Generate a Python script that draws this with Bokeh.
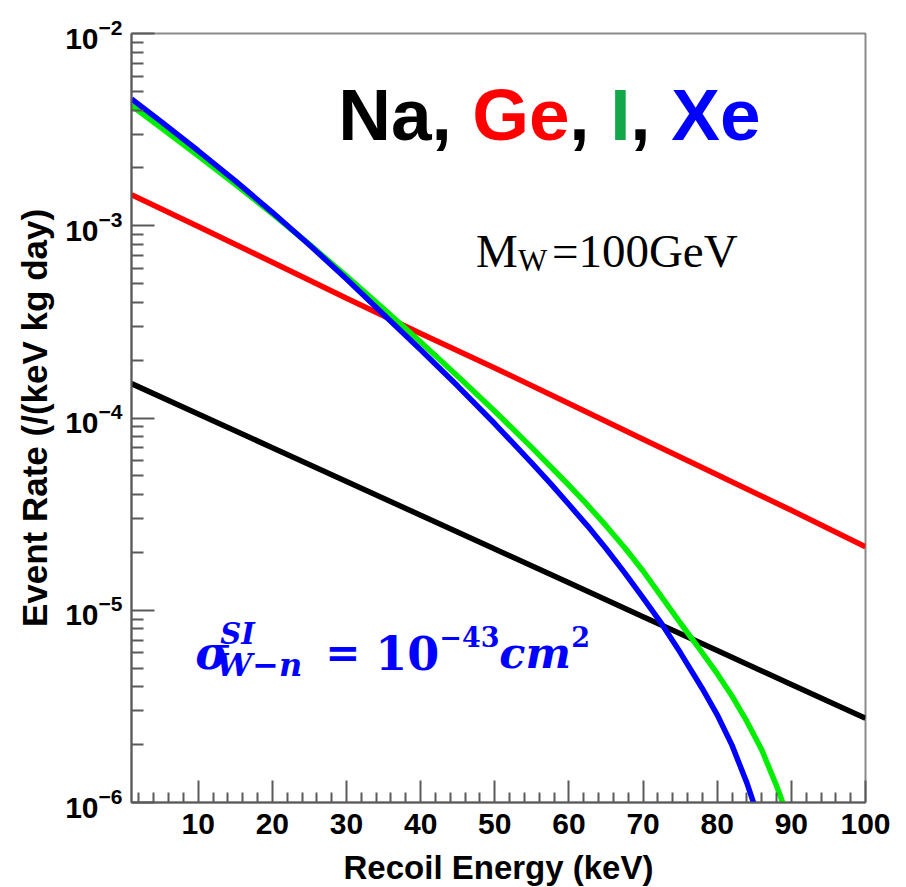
from bokeh.plotting import figure
from bokeh.models import Range1d, FixedTicker, Label, LogTickFormatter
from bokeh.embed import file_html
from bokeh.resources import INLINE

# Recoil energy (keV) and differential event rate (/(keV kg day)) per target
na_energy = [1, 10, 20, 30, 40, 50, 60, 70, 80, 90, 100]
na_rate = [1.51e-4, 1.05e-4, 7.0e-5, 4.68e-5, 3.12e-5, 2.08e-5, 1.39e-5,
           9.25e-6, 6.17e-6, 4.11e-6, 2.74e-6]

ge_energy = [1, 10, 20, 30, 40, 50, 60, 70, 80, 90, 100]
ge_rate = [1.45e-3, 9.9e-4, 6.46e-4, 4.2e-4, 2.75e-4, 1.82e-4, 1.19e-4,
           7.76e-5, 5.07e-5, 3.31e-5, 2.14e-5]

i_energy = [1, 5, 10, 15, 20, 25, 30, 35, 40, 45, 50, 55, 60, 62.5, 65,
            67.5, 70, 72.5, 75, 77.5, 80, 82, 84, 86, 88, 89]
i_rate = [4.217e-3, 3.236e-3, 2.312e-3, 1.641e-3, 1.153e-3, 7.998e-4,
          5.470e-4, 3.698e-4, 2.483e-4, 1.648e-4, 1.084e-4, 7.015e-5,
          4.467e-5, 3.528e-5, 2.754e-5, 2.120e-5, 1.600e-5, 1.175e-5,
          8.610e-6, 6.380e-6, 4.680e-6, 3.580e-6, 2.640e-6, 1.880e-6,
          1.222e-6, 9.594e-7]

xe_energy = [1, 5, 10, 15, 20, 25, 30, 35, 40, 45, 50, 55, 57.5, 60, 62.5,
             65, 67.5, 70, 72.5, 75, 78, 80, 82, 84, 85]
xe_rate = [4.571e-3, 3.483e-3, 2.455e-3, 1.710e-3, 1.175e-3, 7.943e-4,
           5.284e-4, 3.459e-4, 2.265e-4, 1.466e-4, 9.333e-5, 5.821e-5,
           4.571e-5, 3.548e-5, 2.748e-5, 2.094e-5, 1.570e-5, 1.159e-5,
           8.511e-6, 6.039e-6, 3.908e-6, 2.858e-6, 1.982e-6, 1.265e-6,
           9.705e-7]

x_ticks = [10, 20, 30, 40, 50, 60, 70, 80, 90, 100]
x_minor = [v for v in range(2, 100, 2) if v % 10 != 0]
y_exponents = [-6, -5, -4, -3, -2]
y_ticks = [10.0 ** e for e in y_exponents]
y_minor = [k * 10.0 ** e for e in y_exponents[:-1] for k in range(2, 10)]

SANS = "Liberation Sans"
SERIF = "Liberation Serif"
MATH = "DejaVu Serif"
AXIS_GREY = "#5a5a5a"

p = figure(frame_width=734, frame_height=769,
           x_range=Range1d(1, 100), y_range=Range1d(1e-6, 1e-2),
           y_axis_type="log", output_backend="svg", toolbar_location=None,
           min_border_left=131, min_border_right=41,
           min_border_top=33, min_border_bottom=85)
p.background_fill_color = "white"
p.border_fill_color = "white"
p.grid.visible = False
p.outline_line_color = "#8a8a8a"
p.outline_line_width = 2
# faint page frame around the whole figure
p.styles = {"outline": "1px solid #dddddd", "outline-offset": "-4px"}


def style_axis(ax, tick_in, minor_in):
    ax.axis_line_color = AXIS_GREY
    ax.axis_line_width = 2
    ax.major_tick_line_color = AXIS_GREY
    ax.major_tick_line_width = 2
    ax.minor_tick_line_color = AXIS_GREY
    ax.minor_tick_line_width = 2
    ax.major_tick_in = tick_in
    ax.major_tick_out = 0
    ax.minor_tick_in = minor_in
    ax.minor_tick_out = 0
    ax.major_label_text_font = SANS
    ax.major_label_text_font_style = "bold"
    ax.major_label_text_font_size = "30px"
    ax.major_label_text_color = "black"
    ax.axis_label_text_font = SANS
    ax.axis_label_text_font_style = "bold"
    ax.axis_label_text_color = "black"


# x axis
xa = p.xaxis[0]
xa.ticker = FixedTicker(ticks=x_ticks, minor_ticks=x_minor)
style_axis(xa, 22, 10)
xa.major_label_standoff = 11
xa.axis_label = "Recoil Energy (keV)"
xa.axis_label_text_font_size = "33px"
xa.axis_label_standoff = 12

# y axis with power-of-ten labels
ya = p.yaxis[0]
ya.ticker = FixedTicker(ticks=y_ticks, minor_ticks=y_minor)
ya.formatter = LogTickFormatter(min_exponent=0)
style_axis(ya, 23, 12)
ya.major_label_standoff = 9
ya.axis_label = "Event Rate (/(keV kg day)"
ya.axis_label_text_font_size = "35px"
ya.axis_label_standoff = 8

# rate curves
p.line(na_energy, na_rate, line_color="black", line_width=5.5)
p.line(ge_energy, ge_rate, line_color="#ff0000", line_width=5.5)
p.line(i_energy, i_rate, line_color="#00ee00", line_width=5.5)
p.line(xe_energy, xe_rate, line_color="#0000ff", line_width=5.5)


def add_text(x, y, text, dx=0, dy=0, font=SANS, style="bold", size="30px",
             color="black"):
    p.add_layout(Label(x=x, y=y, x_offset=dx, y_offset=dy, text=text,
                       text_font=font, text_font_style=style,
                       text_font_size=size, text_color=color,
                       text_align="left", text_baseline="alphabetic"))


# target nuclei heading
hx, hy = 28.89, 2.71e-3
for dx, txt, col in [(0, "Na,", "black"), (134, "Ge", "#ff0000"),
                     (231, ",", "black"), (272, "I", "#12a84a"),
                     (292, ",", "black"), (333, "Xe", "#0000ff")]:
    add_text(hx, hy, txt, dx=dx, dy=28, size="73px", color=col)

# WIMP mass
mx, my = 47.45, 6.8e-4
add_text(mx, my, "M", dy=7, font=SERIF, style="normal", size="47px")
add_text(mx, my, "W", dx=42, dy=-3, font=SERIF, style="normal", size="31px")
add_text(mx, my, "=100GeV", dx=76, dy=7, font=SERIF, style="normal", size="47px")

# WIMP-nucleon cross section
sx, sy = 9.6, 4.97e-6
blue = "#0000ff"
add_text(sx, sy, "\u03c3", dy=16, font=MATH, style="bold italic", size="46px", color=blue)
add_text(sx, sy, "SI", dx=25, dy=35, font=MATH, style="bold italic", size="29px", color=blue)
add_text(sx, sy, "W\u2212n", dx=21, dy=4, font=MATH, style="bold italic", size="32px", color=blue)
add_text(sx, sy, "=", dx=130, dy=16, font=MATH, style="bold", size="42px", color=blue)
add_text(sx, sy, "10", dx=180, dy=16, font=MATH, style="bold", size="46px", color=blue)
add_text(sx, sy, "\u221243", dx=244, dy=32, font=MATH, style="bold", size="27px", color=blue)
add_text(sx, sy, "cm", dx=304, dy=16, font=MATH, style="bold italic", size="43px", color=blue)
add_text(sx, sy, "2", dx=376, dy=32, font=MATH, style="bold", size="27px", color=blue)

open("out.html", "w").write(file_html(p, INLINE))
